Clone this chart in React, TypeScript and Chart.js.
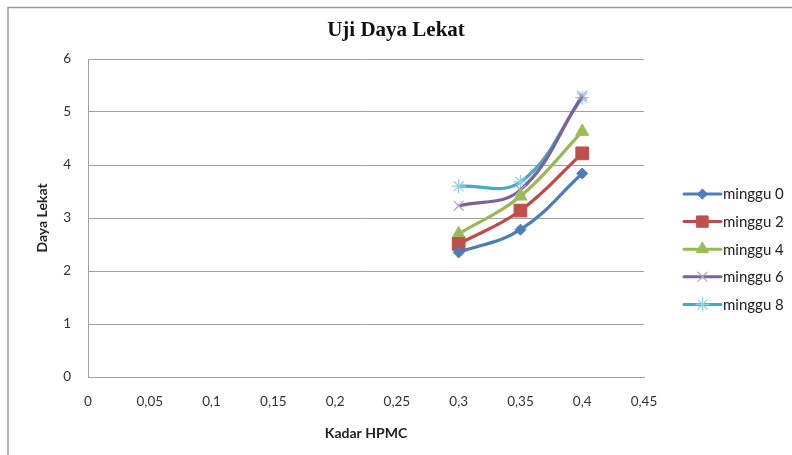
import React, { useEffect, useRef } from "react";
import { Chart, registerables } from "chart.js";
import { drawPoint } from "chart.js/helpers";

Chart.register(...registerables);

const chartTitle = "Uji Daya Lekat";
const xValues = [0.3, 0.35, 0.4];
const minggu0 = [2.35, 2.78, 3.84];
const minggu2 = [2.51, 3.14, 4.22];
const minggu4 = [2.7, 3.41, 4.63];
const minggu6 = [3.23, 3.53, 5.31];
const minggu8 = [3.6, 3.68, 5.27];
const seriesLabels = ["minggu 0", "minggu 2", "minggu 4", "minggu 6", "minggu 8"];
const xTickValues = [0, 0.05, 0.1, 0.15, 0.2, 0.25, 0.3, 0.35, 0.4, 0.45];
const yTickValues = [0, 1, 2, 3, 4, 5, 6];

const FONT = "Lato, 'Open Sans', sans-serif";

const styles = [
  { color: "#4A7EBB", marker: "rectRot", radius: 5.5, markerFill: "#4A7EBB", markerBorder: "#4A7EBB", markerWidth: 1 },
  { color: "#BE4B48", marker: "rect", radius: 9, markerFill: "#C0504D", markerBorder: "#C0504D", markerWidth: 1 },
  { color: "#98B954", marker: "triangle", radius: 7.5, markerFill: "#9BBB59", markerBorder: "#9BBB59", markerWidth: 1 },
  { color: "#7D60A0", marker: "crossRot", radius: 7, markerFill: "#B3A2CF", markerBorder: "#B3A2CF", markerWidth: 1.2 },
  { color: "#46AAC5", marker: "star", radius: 7, markerFill: "#8FD0E2", markerBorder: "#8FD0E2", markerWidth: 1.2 },
];

const seriesData = [minggu0, minggu2, minggu4, minggu6, minggu8];

const frameAndLegend = {
  id: "frameAndLegend",
  beforeDraw(chart: any) {
    const ctx = chart.ctx;
    ctx.save();
    ctx.strokeStyle = "#9a9a9a";
    ctx.lineWidth = 1.5;
    ctx.beginPath();
    ctx.moveTo(8, 460);
    ctx.lineTo(8, 7.5);
    ctx.lineTo(800, 7.5);
    ctx.stroke();
    ctx.restore();
  },
  afterDraw(chart: any) {
    const ctx = chart.ctx;
    ctx.save();
    // title
    ctx.fillStyle = "#111";
    ctx.font = `bold 21px 'Liberation Serif', 'Times New Roman', serif`;
    ctx.textAlign = "center";
    ctx.textBaseline = "middle";
    ctx.fillText(chartTitle, 396, 31);
    // legend
    const x0 = 684;
    const x1 = 721;
    const startY = 194;
    const step = 27.6;
    chart.data.datasets.forEach((ds: any, i: number) => {
      const y = startY + i * step;
      const st = styles[i];
      ctx.strokeStyle = st.color;
      ctx.lineWidth = 3;
      ctx.lineCap = "round";
      ctx.beginPath();
      ctx.moveTo(x0, y);
      ctx.lineTo(x1, y);
      ctx.stroke();
      ctx.fillStyle = st.markerFill;
      ctx.strokeStyle = st.markerBorder;
      ctx.lineWidth = st.markerWidth;
      drawPoint(ctx, { pointStyle: st.marker, rotation: 0, borderWidth: st.markerWidth, radius: st.marker === "rect" ? 8 : st.radius - 0.5 }, (x0 + x1) / 2, y);
      ctx.fillStyle = "#222";
      ctx.font = `15px ${FONT}`;
      ctx.textAlign = "left";
      ctx.textBaseline = "middle";
      ctx.fillText(ds.label, 723, y + 0.5);
    });
    ctx.restore();
  },
};

function fmt(v: number) {
  const r = Math.round(v * 100) / 100;
  return String(r).replace(".", ",");
}

export default function App() {
  const ref = useRef<HTMLCanvasElement | null>(null);
  useEffect(() => {
    if (!ref.current) return;
    const chart = new Chart(ref.current, {
      type: "line",
      data: {
        datasets: seriesData.map((vals, i) => ({
          label: seriesLabels[i],
          data: xValues.map((x, j) => ({ x, y: vals[j] })),
          borderColor: styles[i].color,
          backgroundColor: styles[i].markerFill,
          borderWidth: 3.2,
          tension: 0.4,
          pointStyle: styles[i].marker as any,
          pointRadius: styles[i].radius,
          pointBorderColor: styles[i].markerBorder,
          pointBackgroundColor: styles[i].markerFill,
          pointBorderWidth: styles[i].markerWidth,
          fill: false,
          clip: false as any,
        })),
      },
      options: {
        responsive: false,
        animation: false,
        layout: { padding: { left: 0, right: 148, top: 59, bottom: 0 } },
        plugins: {
          legend: { display: false },
          tooltip: { enabled: false },
          title: { display: false },
        },
        scales: {
          x: {
            type: "linear",
            min: 0,
            max: 0.45,
            afterFit(scale: any) {
              scale.height = 78;
            },
            afterBuildTicks(scale: any) {
              scale.ticks = xTickValues.map((v) => ({ value: v }));
            },
            grid: { display: false, drawTicks: false },
            border: { display: true, color: "#a0a0a0", width: 1 },
            ticks: {
              padding: 17,
              color: "#333",
              font: { family: FONT, size: 13.5 },
              maxRotation: 0,
              autoSkip: false,
              callback: (v: any) => fmt(Number(v)),
            },
            title: {
              display: true,
              text: "Kadar HPMC",
              color: "#222",
              font: { family: FONT, size: 14, weight: "bold" },
              padding: { top: 0, bottom: 13.6 },
            },
          },
          y: {
            type: "linear",
            min: 0,
            max: 6,
            afterFit(scale: any) {
              scale.width = 88;
            },
            afterBuildTicks(scale: any) {
              scale.ticks = yTickValues.map((v) => ({ value: v }));
            },
            grid: { display: true, drawTicks: false, color: "#a0a0a0", lineWidth: 1 },
            border: { display: true, color: "#a0a0a0", width: 1 },
            ticks: {
              padding: 17,
              color: "#333",
              font: { family: FONT, size: 13.5 },
              callback: (v: any) => String(v),
            },
            title: {
              display: true,
              text: "Daya Lekat",
              color: "#222",
              font: { family: FONT, size: 14, weight: "bold" },
              padding: { top: 33.6, bottom: 0 },
            },
          },
        },
      },
      plugins: [frameAndLegend],
    } as any);
    return () => chart.destroy();
  }, []);
  return (
    <div style={{ position: "absolute", left: 0, top: 0, width: 792, height: 455, background: "#fff" }}>
      <canvas ref={ref} width={792} height={455} style={{ display: "block" }} />
    </div>
  );
}
